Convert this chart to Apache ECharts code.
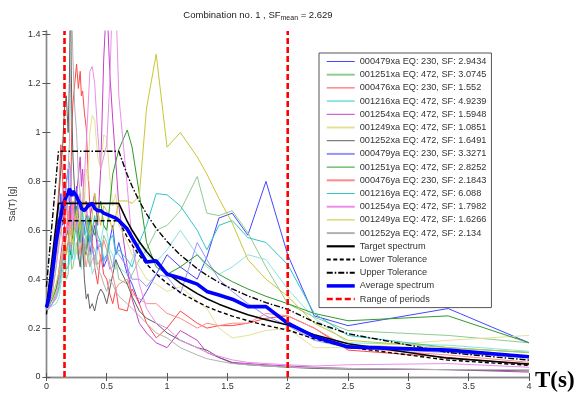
<!DOCTYPE html>
<html><head><meta charset="utf-8">
<script src="https://cdn.jsdelivr.net/npm/echarts@6/dist/echarts.min.js"></script>
<style>html,body{margin:0;padding:0;background:#fff}#c{width:579px;height:396px}</style>
</head><body><div id="c"></div>
<script>
// ---------------- data ----------------
const periods = [0,0.02,0.05,0.08,0.1, 0.11,0.12,0.135,0.15,0.165, 0.18,0.19,0.2,0.21,0.22, 0.235,0.25,0.265,0.28,0.29, 0.3,0.315,0.33,0.345,0.36, 0.38,0.4,0.425,0.45,0.475, 0.5,0.525,0.55,0.575,0.6, 0.67,0.71,0.77,0.83,0.91, 1.0,1.11,1.25,1.33,1.43, 1.54,1.67,1.82,2.0,2.22, 2.5,3.33,4.0];

const r479xa  = [.29,.31,.40,.52,.60, .66,.75,.62,.68,.80, .85,.72,.70,.58,.62, .70,.78,.66,.60,.68, .55,.60,.66,.58,.50, .57,.62,.52,.55,.45, .48,.56,.62,.50,.55, .42,.38,.30,.35,.42, .50,.45,.40,.49,.65, .67,.58,.80,.50,.25, .21,.28,.14];
const r1251xa = [.28,.285,.30,.32,.35, .37,.40,.44,.48,.40, .42,.50,.52,.44,.45, .50,.55,.48,.62,.56, .50,.45,.58,.52,.45, .54,.52,.46,.48,.58, .55,.50,.45,.48,.40, .38,.42,.48,.52,.60, .62,.68,.82,.67,.66, .68,.59,.45,.30,.245, .19,.17,.14];
const r476xa  = [.28,.30,.42,.60,.75, .82,.95,.80,.62,.75, .58,.70,.64,1.02,1.12, 1.20,1.28,1.18,1.25,1.15, 1.17,1.08,1.02,.85,.70, .55,.45,.38,.50,.42, .40,.34,.30,.36,.28, .27,.36,.30,.22,.16, .20,.27,.22,.20,.21, .21,.22,.24,.25,.20, .11,.08,.05];
const r1216xa = [.28,.285,.29,.30,.32, .34,.38,.42,.45,.52, .55,.46,.48,.56,.60, .48,.52,.58,.48,.44, .55,.50,.62,.54,.50, .42,.45,.52,.55,.62, .60,.52,.50,.44,.45, .42,.48,.55,.50,.47, .52,.60,.50,.45,.42, .45,.50,.48,.36,.24, .14,.13,.105];
const r1254xa = [.27,.28,.30,.35,.42, .46,.50,.56,.62,.50, .55,.64,.70,.58,.60, .68,.75,.82,.90,.78, .85,.70,.72,.60,.65, .70,.75,.62,.85,1.30, 1.55,1.25,1.05,.88,.70, .45,.32,.22,.18,.14, .12,.19,.15,.10,.08, .06,.055,.05,.045,.04, .035,.03,.02];
const r1249xa = [.28,.29,.31,.35,.38, .40,.42,.48,.50,.44, .45,.52,.55,.48,.62, .55,.50,.60,.70,.64, .78,.70,.85,.80,1.00, 1.07,1.05,.90,.85,.99, .98,.82,.70,.75,.62, .55,.50,.45,.40,.38, .35,.37,.31,.28,.20, .16,.17,.19,.20,.12, .12,.15,.17];
const r1252xa = [.28,.30,.38,.55,.70, .78,.85,.95,1.10,1.15, 1.00,1.20,1.60,1.10,.90, .75,.62,.50,.45,.52, .55,.40,.32,.34,.28, .30,.27,.33,.36,.34, .30,.36,.42,.48,.45, .38,.33,.27,.24,.22, .18,.15,.12,.11,.08, .057,.05,.045,.04,.035, .032,.03,.025];
const r479ya  = [.28,.30,.38,.50,.58, .62,.65,.74,.80,.68, .72,.88,.85,.66,.70, .60,.62,.70,.75,.64, .60,.55,.52,.58,.60, .52,.48,.56,.55,.47, .50,.44,.45,.52,.50, .45,.40,.40,.37,.42, .41,.34,.55,.48,.40, .35,.30,.25,.21,.15, .12,.10,.08];
const r1251ya = [.28,.29,.32,.36,.40, .42,.45,.50,.52,.58, .60,.54,.50,.56,.58, .66,.70,.60,.55,.64, .62,.52,.50,.58,.65, .60,.58,.66,.72,.62, .60,.70,.83,.88,.93, 1.01,.94,.75,.55,.45, .42,.45,.50,.46,.42, .39,.36,.33,.30,.26, .23,.25,.14];
const r476ya  = [.28,.29,.35,.45,.55, .60,.62,.55,.50,.60, .68,.62,.58,.66,.72, .64,.60,.54,.50,.58, .62,.50,.45,.50,.55, .60,.65,.55,.48,.56, .52,.46,.42,.36,.38, .40,.34,.32,.30,.30, .26,.24,.20,.22,.21, .22,.22,.26,.25,.20, .12,.09,.06];
const r1216ya = [.28,.29,.30,.33,.36, .39,.42,.47,.50,.44, .45,.52,.55,.48,.50, .58,.62,.56,.55,.62, .68,.58,.60,.66,.55, .60,.66,.58,.55,.48, .50,.56,.58,.50,.52, .48,.45,.55,.62,.75, .745,.70,.60,.52,.62, .64,.57,.55,.46,.26, .17,.12,.10];
const r1254ya = [.27,.28,.30,.33,.38, .42,.45,.50,.55,.60, .62,.56,.52,.60,.68, .62,.60,.70,.75,.68, .70,.82,.95,1.10,1.25, 1.27,1.20,1.00,.85,.90, .95,1.20,1.60,1.55,1.15, .78,.55,.38,.28,.22, .20,.15,.12,.10,.085, .07,.06,.055,.05,.045, .05,.055,.04];
const r1249ya = [.28,.30,.33,.38,.42, .45,.48,.52,.55,.50, .50,.58,.62,.54,.55, .62,.68,.64,.60,.66, .72,.68,.65,.60,.58, .66,.75,.68,.62,.70, .68,.64,.60,.66,.72, .72,.71,.74,1.10,1.32, .94,1.00,.90,.83,.73, .63,.48,.40,.33,.22, .15,.12,.10];
const r1252ya = [.28,.29,.34,.45,.52, .56,.60,.66,.72,.78, .85,.95,1.20,1.50,1.30, 1.10,1.00,.82,.75,.66, .60,.55,.52,.48,.45, .48,.50,.44,.42,.38, .35,.40,.38,.35,.33, .30,.28,.25,.22,.18, .16,.12,.09,.075,.065, .055,.05,.045,.04,.038, .035,.03,.03];

const targetSpectrum = [.284,.369,.497,.625,.71, .71,.71,.71,.71,.71, .71,.71,.71,.71,.71, .71,.71,.71,.71,.71, .71,.71,.71,.71,.71, .71,.71,.71,.71,.71, .71,.71,.71,.71,.71, .636,.60,.553,.513,.468, .426,.384,.341,.320,.298, .277,.255,.234,.213,.173, .136,.077,.053];
const lowerTolerance = [.256,.332,.447,.563,.639, .639,.639,.639,.639,.639, .639,.639,.639,.639,.639, .639,.639,.639,.639,.639, .639,.639,.639,.639,.639, .639,.639,.639,.639,.639, .639,.639,.639,.639,.639, .572,.54,.498,.462,.421, .383,.346,.307,.288,.268, .249,.230,.211,.192,.156, .122,.069,.048];
const upperTolerance = [.369,.48,.646,.813,.923, .923,.923,.923,.923,.923, .923,.923,.923,.923,.923, .923,.923,.923,.923,.923, .923,.923,.923,.923,.923, .923,.923,.923,.923,.923, .923,.923,.923,.923,.923, .827,.78,.719,.667,.608, .554,.499,.443,.416,.387, .36,.332,.304,.277,.225, .177,.1,.069];
const averageSpectrum = [.285,.32,.43,.55,.61, .64,.66,.70,.72,.74, .75,.77,.76,.74,.76, .75,.74,.72,.71,.69, .69,.68,.685,.70,.70, .71,.69,.68,.68,.67, .665,.66,.655,.65,.64, .605,.57,.52,.47,.475, .42,.405,.38,.35,.335, .318,.288,.288,.22,.165, .123,.11,.083];
const rangeOfPeriods = [0.15, 2.0];

const recordNames = ['000479xa EQ: 230, SF: 2.9434','001251xa EQ: 472, SF: 3.0745','000476xa EQ: 230, SF: 1.552','001216xa EQ: 472, SF: 4.9239','001254xa EQ: 472, SF: 1.5948','001249xa EQ: 472, SF: 1.0851','001252xa EQ: 472, SF: 1.6491','000479ya EQ: 230, SF: 3.3271','001251ya EQ: 472, SF: 2.8252','000476ya EQ: 230, SF: 2.1843','001216ya EQ: 472, SF: 6.088','001254ya EQ: 472, SF: 1.7982','001249ya EQ: 472, SF: 1.6266','001252ya EQ: 472, SF: 2.134'];
const recordValues = [r479xa, r1251xa, r476xa, r1216xa, r1254xa, r1249xa, r1252xa, r479ya, r1251ya, r476ya, r1216ya, r1254ya, r1249ya, r1252ya];
const titleText = '{a|Combination no. 1 , SF}{s|mean}{a| = 2.629}';
const xTitle = 'T(s)';
const yTitle = 'Sa(T) [g]';

// ---------------- style ----------------
const recordColors = ['#4646ff','#90cc90','#ff4848','#90e2e2','#c640c6','#e2e296','#606060','#9494ff','#2e9a2e','#ff8a8a','#30c6c6','#ea8eea','#c8c832','#b2b2b2'];
const recordLegendWidth = [1,2,1,2,1,2,1,2,1,2,1,2,1,2];
const YMAX = 1.415;
const FONT = '"Liberation Sans", Arial, sans-serif';
const pairs = v => periods.map((t, i) => [t, v[i]]);

const series = [];
recordValues.forEach((v, i) => {
  series.push({
    name: recordNames[i], type: 'line', data: pairs(v), symbol: 'none', silent: true,
    lineStyle: { color: recordColors[i], width: 1 }, itemStyle: { color: recordColors[i] }, z: 2
  });
});
series.push({ name: 'Target spectrum', type: 'line', data: pairs(targetSpectrum), symbol: 'none', silent: true,
  lineStyle: { color: '#000', width: 1.6 }, itemStyle: { color: '#000' }, z: 3 });
series.push({ name: 'Lower Tolerance', type: 'line', data: pairs(lowerTolerance), symbol: 'none', silent: true,
  lineStyle: { color: '#000', width: 1.4, type: [4, 2.5] }, itemStyle: { color: '#000' }, z: 3 });
series.push({ name: 'Upper Tolerance', type: 'line', data: pairs(upperTolerance), symbol: 'none', silent: true,
  lineStyle: { color: '#000', width: 1.4, type: [6, 2, 1.5, 2] }, itemStyle: { color: '#000' }, z: 3 });
series.push({ name: 'Average spectrum', type: 'line', data: pairs(averageSpectrum), symbol: 'none', silent: true,
  lineStyle: { color: '#0000ff', width: 3.6 }, itemStyle: { color: '#0000ff' }, z: 4 });
rangeOfPeriods.forEach(t => {
  series.push({ name: 'Range of periods', type: 'line', data: [[t, 0], [t, YMAX]], symbol: 'none', silent: true,
    lineStyle: { color: '#ff0000', width: 2.6, type: [6, 3] }, itemStyle: { color: '#ff0000' }, z: 5 });
});

const hiddenSymbol = { opacity: 0, borderWidth: 0 };
const legendData = recordNames.map((n, i) => ({ name: n, itemStyle: hiddenSymbol, lineStyle: { width: recordLegendWidth[i] } }))
  .concat([{ name: 'Target spectrum', itemStyle: hiddenSymbol, lineStyle: { width: 2.2 } },
           { name: 'Lower Tolerance', itemStyle: hiddenSymbol },
           { name: 'Upper Tolerance', itemStyle: hiddenSymbol },
           { name: 'Average spectrum', itemStyle: hiddenSymbol, lineStyle: { width: 3.5 } },
           { name: 'Range of periods', itemStyle: hiddenSymbol, lineStyle: { width: 2.5 } }]);

const axisLine = { show: true, lineStyle: { color: '#8a8a8a', width: 1.4 } };
const axisTick = { show: true, inside: true, length: 4, lineStyle: { color: '#555', width: 1 } };
const labelStyle = { color: '#333', fontSize: 9, fontFamily: FONT };

const option = {
  animation: false,
  backgroundColor: '#fff',
  grid: { left: 42, right: 50, top: 31, bottom: 19, containLabel: false },
  xAxis: [
    { type: 'value', min: 0, max: 4, interval: 0.5, axisLine, axisTick, splitLine: { show: false },
      axisLabel: Object.assign({ margin: 5 }, labelStyle) },
    { type: 'value', position: 'top', min: 0, max: 4, interval: 0.5, axisLine, axisTick, splitLine: { show: false },
      axisLabel: { show: false } }
  ],
  yAxis: [
    { type: 'value', min: 0, max: YMAX, interval: 0.2, axisLine, axisTick, splitLine: { show: false },
      axisLabel: Object.assign({ margin: 6, showMaxLabel: false, formatter: v => String(Math.round(v * 10) / 10) }, labelStyle),
      name: yTitle, nameLocation: 'middle', nameGap: 27, nameRotate: 90,
      nameTextStyle: { color: '#333', fontSize: 9, fontFamily: FONT } },
    { type: 'value', position: 'right', min: 0, max: YMAX, interval: 0.2, axisLine, axisTick, splitLine: { show: false },
      axisLabel: { show: false } }
  ],
  legend: {
    data: legendData, orient: 'vertical', left: 319, top: 53, selectedMode: false,
    backgroundColor: '#fff', borderColor: '#555', borderWidth: 1, borderRadius: 0,
    padding: [3, 5, 3, 6], itemWidth: 28, itemHeight: 11, itemGap: 2.2,
    itemStyle: hiddenSymbol,
    textStyle: { color: '#333', fontSize: 9.2, fontFamily: FONT, lineHeight: 11 },
    z: 10
  },
  graphic: [
    { type: 'text', z: 20, style: { x: 258, y: 15, align: 'center', verticalAlign: 'middle', text: titleText,
        rich: { a: { fontSize: 9.5, fontFamily: FONT, fill: '#222', lineHeight: 14, verticalAlign: 'middle' },
                s: { fontSize: 7, fontFamily: FONT, fill: '#222', lineHeight: 7, verticalAlign: 'bottom' } } } },
    { type: 'text', z: 20, style: { x: 535, y: 393, align: 'left', verticalAlign: 'bottom', text: xTitle,
        font: 'bold 23px "Liberation Serif", "Times New Roman", serif', fill: '#000' } }
  ],
  series
};
const chart = echarts.init(document.getElementById('c'));
chart.setOption(option);
</script>
</body></html>
